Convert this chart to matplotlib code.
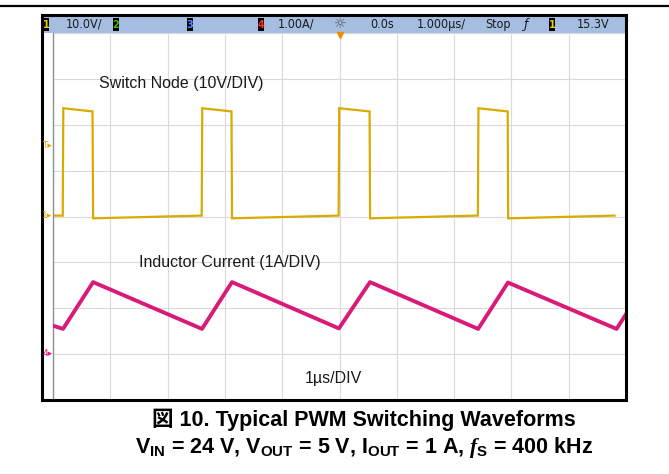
import matplotlib
matplotlib.use("Agg")
import matplotlib.pyplot as plt
from matplotlib.patches import Rectangle

plt.rcParams['mathtext.fontset'] = 'custom'
plt.rcParams['mathtext.rm'] = 'Liberation Sans:bold'
plt.rcParams['mathtext.it'] = 'Liberation Serif:bold:italic'
plt.rcParams['mathtext.bf'] = 'Liberation Sans:bold'

# switch node voltage (time in us, volts)
sw_t = [-4.97, -4.83, -4.82, -4.31, -4.30,
        -2.405, -2.395, -1.885, -1.876,
        -0.015, -0.005, 0.525, 0.534,
        2.415, 2.425, 2.935, 2.944,
        4.80]
sw_v = [0.2, 0.2, 23.6, 22.9, -0.4,
        0.2, 23.6, 22.9, -0.4,
        0.2, 23.6, 22.9, -0.4,
        0.2, 23.6, 22.9, -0.4,
        0.2]

# inductor current (time in us, amps)
il_t = [-5.0, -4.825, -4.30, -2.40, -1.876, -0.01, 0.532, 2.42, 2.94, 4.835, 5.0]
il_a = [0.62, 0.55, 1.57, 0.55, 1.57, 0.56, 1.57, 0.55, 1.56, 0.55, 0.87]

volts_per_div = 10.0
amps_per_div = 1.0
amp_zero_div = -3.0

header_items = [("10.0V/", 66), ("1.00A/", 278), ("0.0s", 370),
                ("1.000µs/", 417), ("Stop", 485), ("15.3V", 577)]
channel_boxes = [("1", 43, '#f2d000'), ("2", 113, '#44c000'),
                 ("3", 187, '#5a8cff'), ("4", 258, '#ff3030'),
                 ("1", 549, '#f2d000')]

W, H = 669, 474
fig = plt.figure(figsize=(W / 100, H / 100), dpi=100)

# graticule: 10 x 8 divisions
gl, gr, gt, gb = 53, 626, 33, 400
ax = fig.add_axes([gl / W, 1 - gb / H, (gr - gl) / W, (gb - gt) / H], zorder=1)
ax.set_facecolor('white')
ax.set_xlim(-5, 5)
ax.set_ylim(-4 * volts_per_div, 4 * volts_per_div)
ax.set_xticks(range(-5, 6))
ax.set_yticks([k * volts_per_div for k in range(-4, 5)])
ax.tick_params(length=0, labelbottom=False, labelleft=False)
ax.grid(True, color='#dadada', lw=0.8)
for s in ['top', 'right', 'bottom']:
    ax.spines[s].set_visible(False)
ax.spines['left'].set_color('#909090')
ax.spines['left'].set_linewidth(1.0)
ax.plot(sw_t, sw_v, color='#d8ab00', lw=1.6, solid_joinstyle='miter')

ax2 = ax.twinx()
ax2.set_ylim((-4 - amp_zero_div) * amps_per_div, (4 - amp_zero_div) * amps_per_div)
ax2.axis('off')
ax2.plot(il_t, il_a, color='#d81b78', lw=2.8)

# overlay in pixel coordinates: frame, header, labels, caption
bg = fig.add_axes([0, 0, 1, 1], zorder=3)
bg.patch.set_visible(False)
bg.set_xlim(0, W)
bg.set_ylim(H, 0)
bg.axis('off')

bg.plot([0, W], [6, 6], color='black', lw=1.6)
bg.add_patch(Rectangle((42, 15), 584, 18, facecolor='#a4bde1', edgecolor='none'))
bg.add_patch(Rectangle((42, 15), 584, 385, fill=False, edgecolor='black', lw=2.2))

hdr = dict(family='DejaVu Sans', fontstretch='condensed', fontsize=9,
           color='#1a1a1a', va='center', ha='left')
for txt, x in header_items:
    bg.text(x, 24, txt, **hdr)
for num, x, c in channel_boxes:
    bg.add_patch(Rectangle((x, 18), 6, 13, facecolor='black', edgecolor='none'))
    bg.text(x + 3, 24.5, num, color=c, fontsize=7, fontweight='bold',
            ha='center', va='center')
bg.text(340, 24, '☼', fontsize=10, color='#555555', ha='center', va='center')
bg.text(526, 24, 'ƒ', fontsize=9, color='#1a1a1a', ha='center', va='center',
        style='italic')
bg.plot([340], [35], marker='v', color='#f08c00', ms=5)

# ground / trigger markers in the left margin
bg.text(47.5, 216, '1▸', fontsize=6.5, color='#d8ab00', ha='center', va='center')
bg.text(47.5, 146, 'T▸', fontsize=6.5, color='#d8ab00', ha='center', va='center')
bg.text(47.5, 354, '4▸', fontsize=6.5, color='#d81b78', ha='center', va='center')

lab = dict(family='Liberation Sans', fontsize=11.5, color='#1a1a1a', va='center', ha='left')
bg.text(99, 83, 'Switch Node (10V/DIV)', **lab)
bg.text(139, 262, 'Inductor Current (1A/DIV)', **lab)
bg.text(305, 378, '1µs/DIV', **lab)

bg.text(364, 420, '図 10. Typical PWM Switching Waveforms',
        family=['Liberation Sans', 'Noto Sans CJK JP'], fontweight='bold',
        fontsize=15.5, ha='center', va='center')
bg.text(364, 447, r'V$_\mathrm{IN}$ = 24 V, V$_\mathrm{OUT}$ = 5 V, '
        r'I$_\mathrm{OUT}$ = 1 A, $\mathit{f}_\mathrm{S}$ = 400 kHz',
        family='Liberation Sans', fontweight='bold', fontsize=15.5,
        ha='center', va='center')

fig.savefig('out.png', dpi=100)
